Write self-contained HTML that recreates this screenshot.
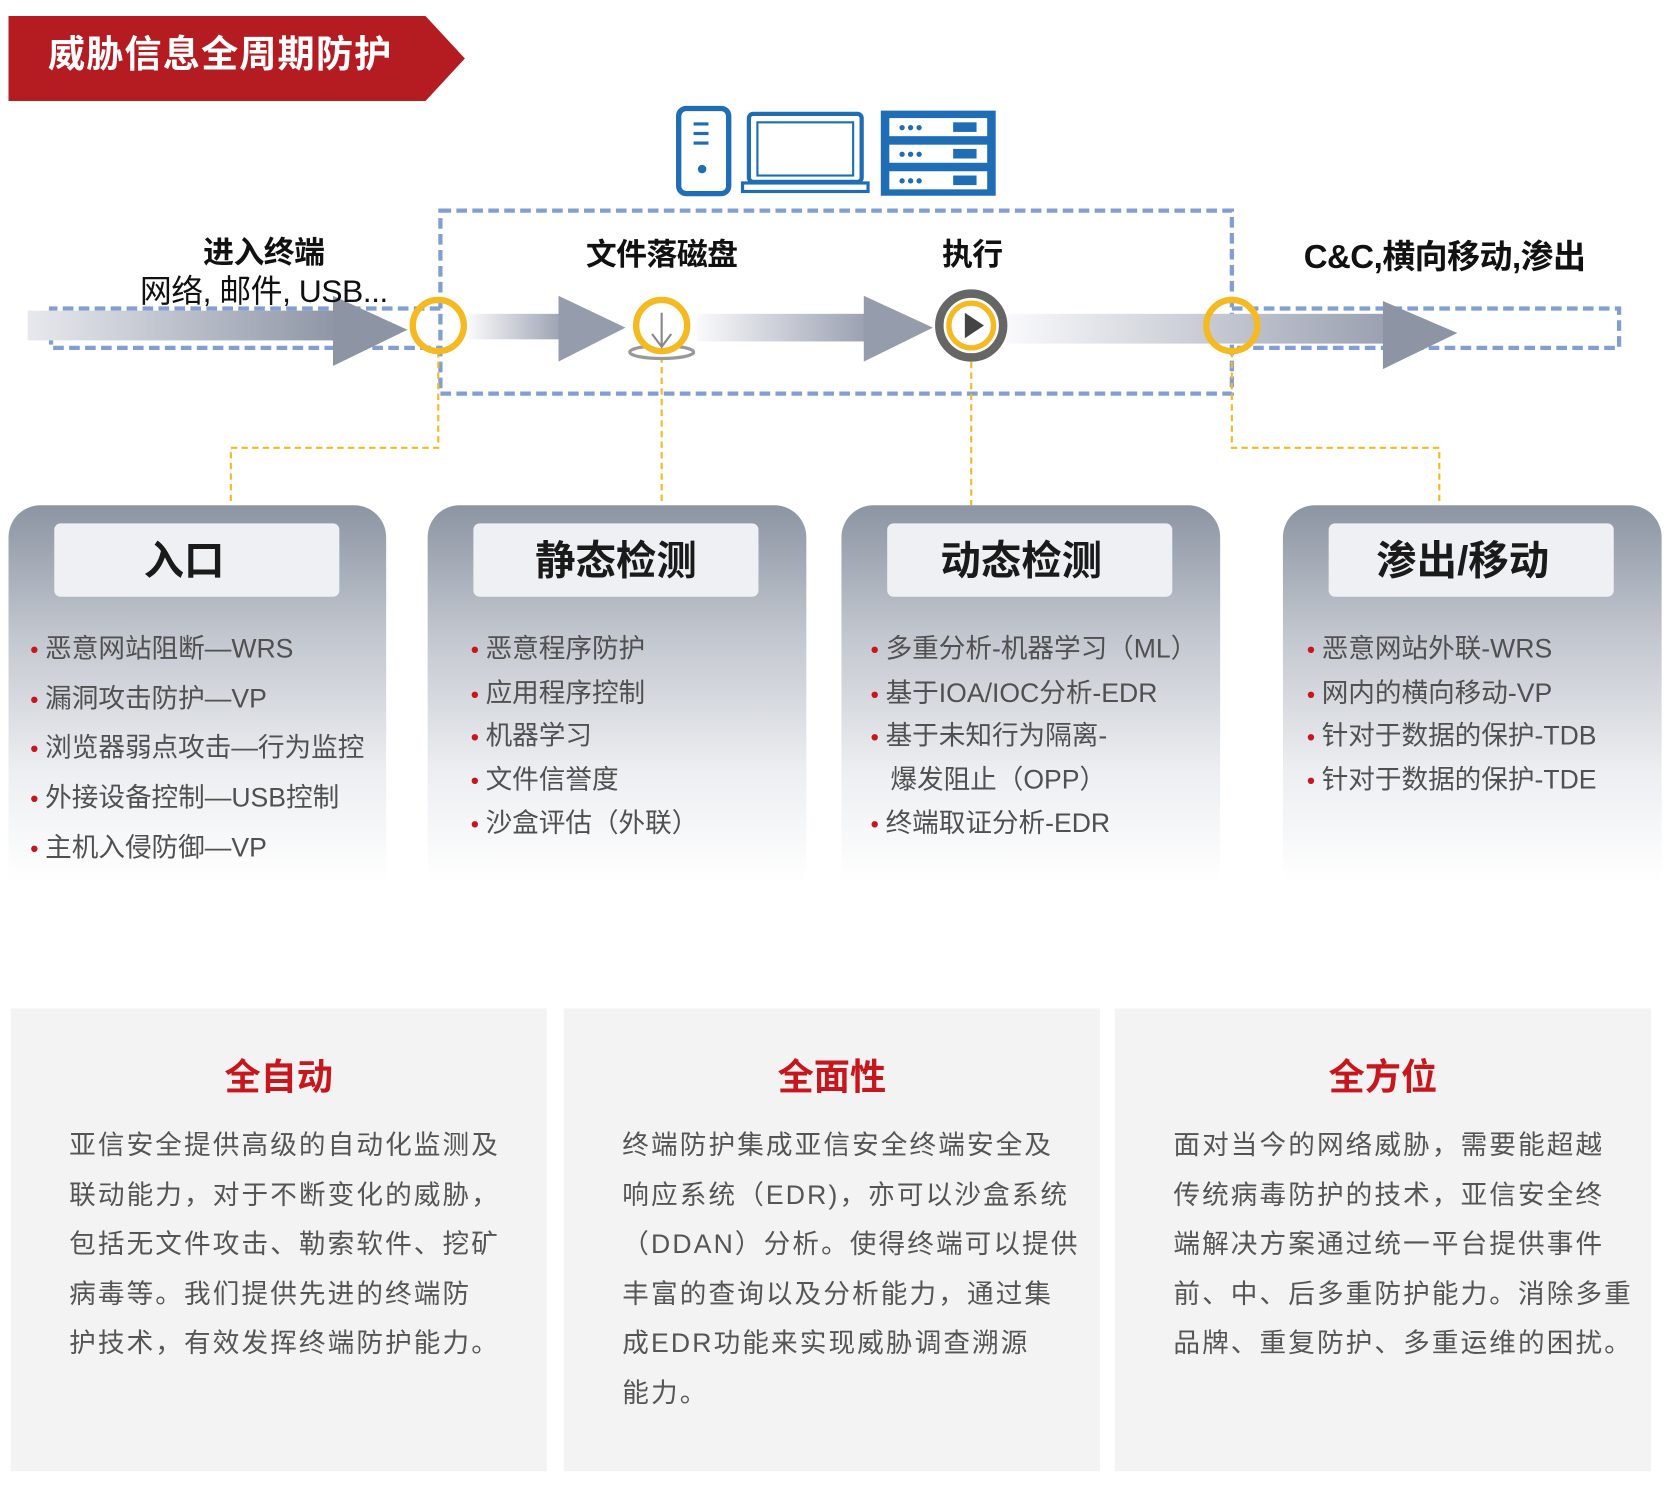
<!DOCTYPE html>
<html><head><meta charset="utf-8"><style>
html,body{margin:0;padding:0;background:#fff;width:1668px;height:1490px;overflow:hidden}
#s{position:absolute;left:0;top:0;width:1568px;height:1401px;transform:scale(1.06378);transform-origin:0 0;font-family:"Liberation Sans","Noto Sans CJK SC",sans-serif}
.a{position:absolute}
.lbl{position:absolute;font-size:29px;color:#111;font-weight:bold;transform:translateX(-50%);white-space:nowrap;letter-spacing:-0.5px}
.card{position:absolute;top:475px;height:355px;border-radius:30px 30px 0 0;background:linear-gradient(#8c95a3 0%,#c3c7cf 35%,#eceef1 70%,#fff 100%)}
.hd{position:absolute;top:17px;left:43px;width:268px;height:69px;background:#eef0f3;border-radius:6px;font-size:38px;font-weight:bold;color:#1a1a1a;text-align:center;line-height:72px}
.li{position:absolute;left:20px;font-size:25px;color:#505050;white-space:nowrap}
.li b{color:#c8161d;font-size:14px;margin-right:6px;position:relative;top:-3px}
.bx{position:absolute;top:948px;height:435px;width:504px;background:#f3f3f3}
.bx h3{margin:0;position:absolute;top:37px;width:100%;text-align:center;color:#c8161d;font-size:34px;font-weight:bold}
.bx p{margin:0;position:absolute;left:55px;top:106px;font-size:25px;line-height:46.6px;color:#555;white-space:nowrap;letter-spacing:2px}
</style></head><body><div id="s">
<svg class="a" style="left:0;top:0" width="1568" height="480">
<defs>
<linearGradient id="g" x1="0" x2="1"><stop offset="0" stop-color="#e8e9ee"/><stop offset="1" stop-color="#8e96a6"/></linearGradient>
<linearGradient id="g2" x1="0" x2="1"><stop offset="0" stop-color="#fafafc"/><stop offset="1" stop-color="#9aa0b0"/></linearGradient>
</defs>
<polygon points="8,15 400,15 437,55 400,95 8,95" fill="#b41c22"/>
<text x="45" y="63" fill="#fff" font-size="35" font-weight="bold" letter-spacing="1" font-family="Liberation Sans,Noto Sans CJK SC,sans-serif">威胁信息全周期防护</text>
<rect x="638" y="102" width="47" height="80" rx="7" fill="none" stroke="#1e6db5" stroke-width="5"/>
<rect x="652" y="115" width="14" height="3" fill="#1e6db5"/><rect x="652" y="124" width="14" height="3" fill="#1e6db5"/><rect x="652" y="133" width="14" height="3" fill="#1e6db5"/>
<circle cx="660" cy="159" r="4" fill="#1e6db5"/>
<rect x="704" y="107" width="106" height="64" rx="4" fill="none" stroke="#1e6db5" stroke-width="4"/>
<rect x="712" y="115" width="90" height="50" fill="none" stroke="#1e6db5" stroke-width="2"/>
<rect x="698" y="172" width="118" height="8" fill="none" stroke="#1e6db5" stroke-width="3"/>
<rect x="828" y="104" width="108" height="80" fill="#1e6db5"/>
<g fill="#fff"><rect x="836" y="111" width="92" height="17"/><rect x="836" y="136" width="92" height="17"/><rect x="836" y="161" width="92" height="17"/></g>
<g fill="#1e6db5"><circle cx="848" cy="120" r="2.5"/><circle cx="856" cy="120" r="2.5"/><circle cx="864" cy="120" r="2.5"/><rect x="896" y="115" width="22" height="9"/>
<circle cx="848" cy="145" r="2.5"/><circle cx="856" cy="145" r="2.5"/><circle cx="864" cy="145" r="2.5"/><rect x="896" y="140" width="22" height="9"/>
<circle cx="848" cy="170" r="2.5"/><circle cx="856" cy="170" r="2.5"/><circle cx="864" cy="170" r="2.5"/><rect x="896" y="165" width="22" height="9"/></g>
<g fill="none" stroke="#819fd3" stroke-width="4" stroke-dasharray="10,5">
<rect x="414" y="198" width="744" height="172"/>
<path d="M414,290 H48 V327 H414"/>
<path d="M1158,290 H1522 V327 H1158"/>
</g>
<rect x="26" y="292" width="290" height="28" fill="url(#g)"/>
<polygon points="313,278 383,310 313,344" fill="#8d95a5"/>
<rect x="440" y="295" width="90" height="24" fill="url(#g2)"/>
<polygon points="525,278 588,308 525,340" fill="#959cac"/>
<rect x="655" y="295" width="160" height="26" fill="url(#g2)"/>
<polygon points="812,278 877,308 812,340" fill="#959cac"/>
<rect x="945" y="295" width="360" height="28" fill="url(#g2)"/>
<polygon points="1300,283 1370,313 1300,347" fill="#8d95a5"/>
<g fill="none" stroke="#f5b921" stroke-width="2" stroke-dasharray="6,4">
<path d="M412,330 V421 H217 V475"/>
<path d="M622,335 V475"/>
<path d="M913,340 V475"/>
<path d="M1158,330 V421 H1353 V475"/>
</g>
<circle cx="412" cy="306" r="24" fill="none" stroke="#f5b921" stroke-width="6"/>
<ellipse cx="622" cy="331" rx="30" ry="6" fill="#fff" stroke="#999" stroke-width="3"/>
<circle cx="622" cy="306" r="24" fill="#fff" stroke="#f5b921" stroke-width="6"/>
<path d="M622,294 V326 M613,314 L622,326 L631,314" stroke="#888" stroke-width="2" fill="none"/>
<circle cx="913" cy="306" r="30" fill="#fff" stroke="#666" stroke-width="8"/>
<circle cx="913" cy="306" r="21" fill="#fff" stroke="#f5b921" stroke-width="5"/>
<polygon points="907,294 925,306 907,318" fill="#444"/>
<circle cx="1158" cy="306" r="24" fill="none" stroke="#f5b921" stroke-width="6"/>
</svg>
<div class="lbl" style="left:248px;top:214px">进入终端</div>
<div class="lbl" style="left:248px;top:249px;font-weight:normal;font-size:30px">网络, 邮件, USB...</div>
<div class="lbl" style="left:622px;top:216px">文件落磁盘</div>
<div class="lbl" style="left:914px;top:216px">执行</div>
<div class="lbl" style="left:1358px;top:216px;font-size:31px">C&amp;C,横向移动,渗出</div>

<div class="card" style="left:8px;width:355px"><div class="hd" style="left:43px;text-indent:-24px">入口</div>
<div class="li" style="top:115px"><b>●</b>恶意网站阻断—WRS</div>
<div class="li" style="top:162px"><b>●</b>漏洞攻击防护—VP</div>
<div class="li" style="top:208px"><b>●</b>浏览器弱点攻击—行为监控</div>
<div class="li" style="top:255px"><b>●</b>外接设备控制—USB控制</div>
<div class="li" style="top:302px"><b>●</b>主机入侵防御—VP</div></div>
<div class="card" style="left:402px;width:356px"><div class="hd">静态检测</div>
<div class="li" style="top:115px;left:40px"><b>●</b>恶意程序防护</div>
<div class="li" style="top:157px;left:40px"><b>●</b>应用程序控制</div>
<div class="li" style="top:197px;left:40px"><b>●</b>机器学习</div>
<div class="li" style="top:238px;left:40px"><b>●</b>文件信誉度</div>
<div class="li" style="top:279px;left:40px"><b>●</b>沙盒评估（外联）</div></div>
<div class="card" style="left:791px;width:356px"><div class="hd" style="text-indent:-16px">动态检测</div>
<div class="li" style="top:115px;left:27px"><b>●</b>多重分析-机器学习（ML）</div>
<div class="li" style="top:157px;left:27px"><b>●</b>基于IOA/IOC分析-EDR</div>
<div class="li" style="top:197px;left:27px"><b>●</b>基于未知行为隔离-</div>
<div class="li" style="top:238px;left:46px">爆发阻止（OPP）</div>
<div class="li" style="top:279px;left:27px"><b>●</b>终端取证分析-EDR</div></div>
<div class="card" style="left:1206px;width:356px"><div class="hd" style="text-indent:-16px">渗出/移动</div>
<div class="li" style="top:115px;left:22px"><b>●</b>恶意网站外联-WRS</div>
<div class="li" style="top:157px;left:22px"><b>●</b>网内的横向移动-VP</div>
<div class="li" style="top:197px;left:22px"><b>●</b>针对于数据的保护-TDB</div>
<div class="li" style="top:238px;left:22px"><b>●</b>针对于数据的保护-TDE</div></div>

<div class="bx" style="left:10px"><h3>全自动</h3><p>亚信安全提供高级的自动化监测及<br>联动能力，对于不断变化的威胁，<br>包括无文件攻击、勒索软件、挖矿<br>病毒等。我们提供先进的终端防<br>护技术，有效发挥终端防护能力。</p></div>
<div class="bx" style="left:530px"><h3>全面性</h3><p>终端防护集成亚信安全终端安全及<br>响应系统（EDR)，亦可以沙盒系统<br>（DDAN）分析。使得终端可以提供<br>丰富的查询以及分析能力，通过集<br>成EDR功能来实现威胁调查溯源<br>能力。</p></div>
<div class="bx" style="left:1048px"><h3>全方位</h3><p>面对当今的网络威胁，需要能超越<br>传统病毒防护的技术，亚信安全终<br>端解决方案通过统一平台提供事件<br>前、中、后多重防护能力。消除多重<br>品牌、重复防护、多重运维的困扰。</p></div>
</div></body></html>
